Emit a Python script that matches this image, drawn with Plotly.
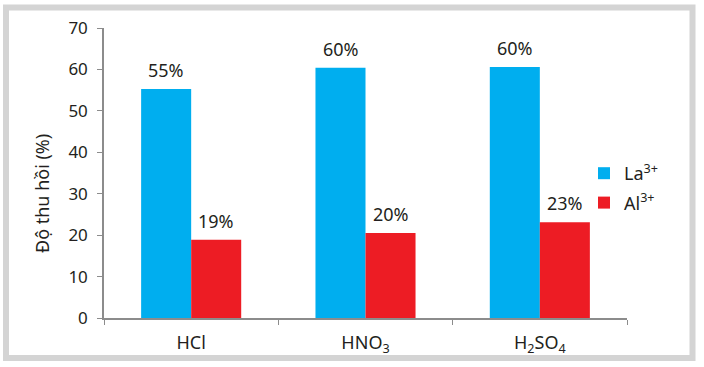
import plotly.graph_objects as go

categories = ["HCl", "HNO<sub>3</sub>", "H<sub>2</sub>SO<sub>4</sub>"]
la_values = [55.3, 60.4, 60.6]
al_values = [18.9, 20.5, 23.1]
la_labels = ["55%", "60%", "60%"]
al_labels = ["19%", "20%", "23%"]
y_ticks = [0, 10, 20, 30, 40, 50, 60, 70]

W, H = 704, 367
L, R, T, B = 104, 77, 28, 49
pw, ph = W - L - R, H - T - B

def px_x(p):
    return (p - L) / pw

def px_y(p):
    return (H - B - p) / ph

FONT = "Noto Sans"
TXT = "#231F20"
BLUE = "#00AEEF"
RED = "#ED1C24"

fig = go.Figure()
fig.add_trace(go.Bar(x=categories, y=la_values, name="La<sup>3+</sup>", marker_color=BLUE,
                     marker_line_width=0, legendgroup="la"))
fig.add_trace(go.Bar(x=categories, y=al_values, name="Al<sup>3+</sup>", marker_color=RED,
                     marker_line_width=0, legendgroup="al"))

annotations = []
for c, v, t in zip(categories, la_values, la_labels):
    annotations.append(dict(x=c, y=v, text=t, xref="x", yref="y", showarrow=False, yanchor="bottom",
                            xshift=-25, yshift=5, font=dict(family=FONT, size=18, color=TXT)))
for c, v, t in zip(categories, al_values, al_labels):
    annotations.append(dict(x=c, y=v, text=t, xref="x", yref="y", showarrow=False, yanchor="bottom",
                            xshift=25, yshift=5, font=dict(family=FONT, size=18, color=TXT)))
annotations.append(dict(x=px_x(42), y=px_y(194), xref="paper", yref="paper", text="Độ thu hồi (%)",
                        xanchor="center", yanchor="middle",
                        textangle=-90, showarrow=False, font=dict(family=FONT, size=18, color=TXT)))

fig.update_layout(
    width=W, height=H,
    margin=dict(l=L, r=R, t=T, b=B, autoexpand=False),
    paper_bgcolor="white", plot_bgcolor="white",
    barmode="group", bargap=0.426, bargroupgap=0,
    font=dict(family=FONT, size=17, color=TXT),
    showlegend=True,
    legend=dict(x=px_x(584), y=px_y(155), xanchor="left", yanchor="top",
                bgcolor="rgba(0,0,0,0)", font=dict(family=FONT, size=18, color=TXT),
                itemwidth=30, traceorder="grouped", tracegroupgap=3),
    annotations=annotations,
    shapes=[dict(type="rect", xref="paper", yref="paper",
                 x0=px_x(6), x1=px_x(692.5), y0=px_y(358), y1=px_y(7.5),
                 line=dict(color="#D4D4D4", width=6), layer="below")],
)
fig.update_xaxes(showline=True, linecolor="#8C8C8C", linewidth=1.5, ticks="outside", ticklen=5,
                 tickcolor="#8C8C8C", tickson="boundaries", showgrid=False, zeroline=False,
                 ticklabelstandoff=8,
                 tickfont=dict(family=FONT, size=18, color=TXT))
fig.update_yaxes(range=[0, 70], tickvals=y_ticks, showline=True, linecolor="#8C8C8C", linewidth=1.5,
                 ticks="outside", ticklen=5, tickcolor="#8C8C8C", showgrid=False, zeroline=False,
                 ticklabelstandoff=6,
                 tickfont=dict(family=FONT, size=17, color=TXT))

fig.write_html("out.html", config={"displayModeBar": False},
               post_script="document.body.style.margin='0';")
